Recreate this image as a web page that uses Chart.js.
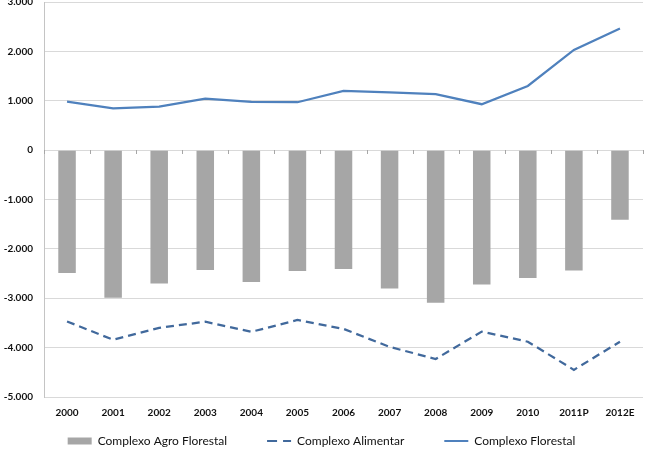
<!DOCTYPE html>
<html>
<head>
<meta charset="utf-8">
<script src="https://cdn.jsdelivr.net/npm/chart.js@4"></script>
<style>
  html, body { margin: 0; padding: 0; background: #ffffff; }
  #wrap { width: 646px; height: 452px; overflow: hidden; position: relative; }
  #c { position: absolute; left: 0; top: -15px; }
</style>
</head>
<body>
<div id="wrap"><canvas id="c" width="646" height="467"></canvas></div>
<script>
const categories = ['2000','2001','2002','2003','2004','2005','2006','2007','2008','2009','2010','2011P','2012E'];
const agroFlorestal = [-2490, -2990, -2700, -2430, -2670, -2450, -2410, -2800, -3090, -2720, -2590, -2440, -1410];
const alimentar = [-3470, -3840, -3600, -3475, -3680, -3440, -3620, -3985, -4230, -3675, -3880, -4450, -3880];
const florestal = [980, 845, 880, 1045, 975, 970, 1200, 1170, 1135, 930, 1300, 2030, 2465];
const seriesNames = ['Complexo Agro Florestal', 'Complexo Alimentar', 'Complexo Florestal'];
const yTickValues = [-5000, -4000, -3000, -2000, -1000, 0, 1000, 2000, 3000];
const yTickLabels = ['-5.000', '-4.000', '-3.000', '-2.000', '-1.000', '0', '1.000', '2.000', '3.000'];

const FONT = 'Lato, "Open Sans", sans-serif';

const zeroTicks = {
  id: 'zeroTicks',
  afterDatasetsDraw(chart) {
    const { ctx, scales: { x, y } } = chart;
    const y0 = Math.round(y.getPixelForValue(0));
    ctx.save();
    ctx.strokeStyle = '#a6a6a6';
    ctx.lineWidth = 1;
    for (let i = 0; i <= categories.length; i++) {
      const px = Math.round(x.getPixelForValue(i - 0.5)) + 0.5;
      ctx.beginPath();
      ctx.moveTo(px, y0);
      ctx.lineTo(px, y0 + 4);
      ctx.stroke();
    }
    ctx.restore();
  }
};

const legendFit = {
  id: 'legendFit',
  beforeInit(chart) {
    const lg = chart.legend;
    const fit = lg.fit;
    lg.fit = function () { fit.call(this); this.height = 23; };
    const draw = lg.draw;
    lg.draw = function () {
      const t = this.top;
      this.top = t - 34;
      draw.apply(this, arguments);
      this.top = t;
    };
  }
};

const chart = new Chart(document.getElementById('c'), {
  type: 'bar',
  data: {
    labels: categories,
    datasets: [
      {
        type: 'bar',
        label: seriesNames[0],
        data: agroFlorestal,
        backgroundColor: '#a6a6a6',
        borderWidth: 0,
        barPercentage: 0.38,
        categoryPercentage: 1,
        pointStyle: 'rect'
      },
      {
        type: 'line',
        label: seriesNames[1],
        data: alimentar,
        borderColor: '#41699c',
        backgroundColor: '#41699c',
        borderWidth: 2.25,
        borderDash: [8, 5],
        pointRadius: 0,
        pointStyle: 'line',
        tension: 0,
        fill: false
      },
      {
        type: 'line',
        label: seriesNames[2],
        data: florestal,
        borderColor: '#4f81bd',
        backgroundColor: '#4f81bd',
        borderWidth: 2.25,
        pointRadius: 0,
        pointStyle: 'line',
        tension: 0,
        fill: false
      }
    ]
  },
  options: {
    responsive: false,
    animation: false,
    devicePixelRatio: 1,
    layout: { padding: { left: 0, right: 3, top: 0, bottom: 0 } },
    plugins: {
      tooltip: { enabled: false },
      legend: {
        position: 'bottom',
        labels: {
          usePointStyle: true,
          pointStyleWidth: 24,
          boxHeight: 7,
          padding: 40,
          color: '#111111',
          font: { family: FONT, size: 12 },
          generateLabels: (ch) => {
            const items = Chart.defaults.plugins.legend.labels.generateLabels(ch);
            items.forEach((it) => {
              const ds = ch.data.datasets[it.datasetIndex];
              if (ds.type === 'line') {
                it.lineDash = ds.borderDash ? [10, 6] : [];
                it.lineWidth = 2;
                it.strokeStyle = ds.borderColor;
                it.pointStyle = 'line';
              } else {
                it.lineWidth = 0;
                it.pointStyle = 'rect';
              }
            });
            return items;
          }
        }
      }
    },
    scales: {
      x: {
        grid: { display: false, drawTicks: false },
        border: { display: false },
        ticks: {
          color: '#111111',
          padding: 10,
          maxRotation: 0,
          font: { family: FONT, size: 10, weight: 'bold' }
        }
      },
      y: {
        min: -5000,
        max: 3000,
        afterBuildTicks: (s) => { s.ticks = yTickValues.map(v => ({ value: v })); },
        afterFit: (s) => { s.width = 44; },
        grid: { color: '#d9d9d9', lineWidth: 1, drawTicks: false },
        border: { display: true, color: '#c4c4c4', width: 1 },
        ticks: {
          color: '#111111',
          padding: 11,
          font: { family: FONT, size: 10, weight: 'bold' },
          callback: (v) => yTickLabels[yTickValues.indexOf(v)]
        }
      }
    }
  },
  plugins: [zeroTicks, legendFit]
});
</script>
</body>
</html>
